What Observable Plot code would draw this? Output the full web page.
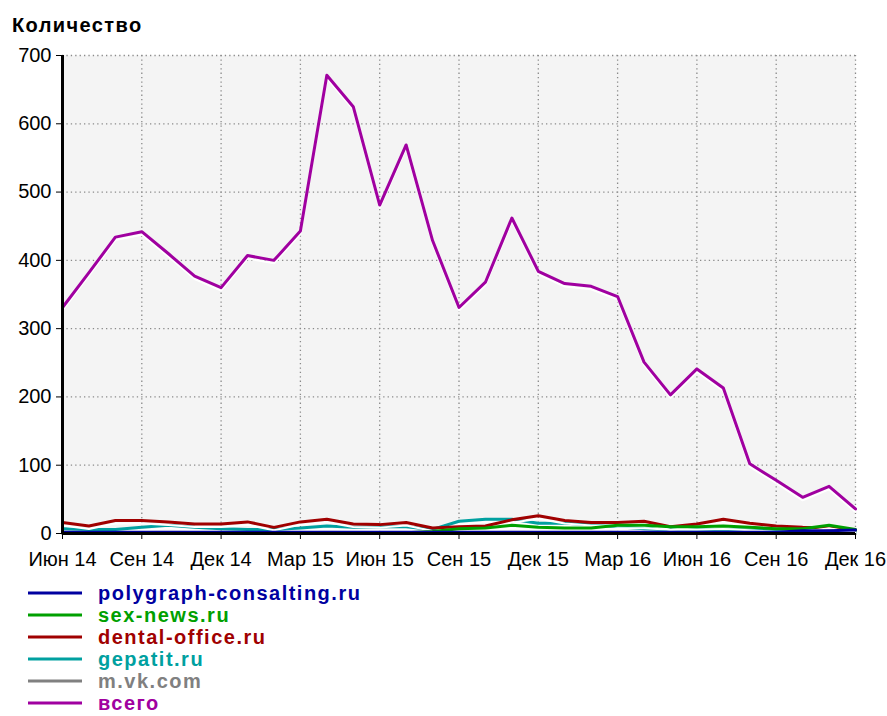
<!DOCTYPE html>
<html>
<head>
<meta charset="utf-8">
<script src="https://cdn.jsdelivr.net/npm/d3@7"></script>
<script src="https://cdn.jsdelivr.net/npm/@observablehq/plot@0.6"></script>
<style>
  body { margin: 0; background: #fff; font-family: "Liberation Sans", Arial, sans-serif; overflow: hidden; }
  #title { height: 40px; position: relative; }
  #title span { position: absolute; left: 12px; top: 15px; font-weight: bold; font-size: 20px; line-height: 20px; letter-spacing: 1.4px; color: #000; }
  #chart svg { display: block; }
  #legend { padding-top: 12px; }
  .row { height: 22px; display: flex; align-items: center; }
  .row svg { margin-left: 28px; display: block; }
  .row span { margin-left: 16px; font-weight: bold; font-size: 20px; line-height: 16px; letter-spacing: 1.5px; }
</style>
</head>
<body>
<div id="title"><span>Количество</span></div>
<div id="chart"></div>
<div id="legend"></div>
<script>
// Months (index 0 = Июн 14 ... 30 = Дек 16)
const months = ["Июн 14","Июл 14","Авг 14","Сен 14","Окт 14","Ноя 14","Дек 14","Янв 15","Фев 15","Мар 15","Апр 15","Май 15","Июн 15","Июл 15","Авг 15","Сен 15","Окт 15","Ноя 15","Дек 15","Янв 16","Фев 16","Мар 16","Апр 16","Май 16","Июн 16","Июл 16","Авг 16","Сен 16","Окт 16","Ноя 16","Дек 16"];
const xTickIdx = [0,3,6,9,12,15,18,21,24,27,30];
const yTicks = [0,100,200,300,400,500,600,700];

const seriesNames = ["polygraph-consalting.ru","sex-news.ru","dental-office.ru","gepatit.ru","m.vk.com","всего"];
const seriesColors = ["#0000a0","#00a000","#a00000","#00a0a0","#808080","#a000a0"];

const polygraphVals = [2,2,2,2,2,2,2,2,2,2,2,2,2,2,2,2,2,2,2,2,2,2,2,2,2,2,2,2,4,4,5];
const sexNewsVals   = [1,1,1,1,1,1,1,1,1,1,1,1,1,1,3,7,8,12,9,8,8,12,12,10,10,11,9,7,7,12,6];
const dentalVals    = [16,11,19,19,17,14,14,17,9,17,21,14,13,16,8,10,11,20,26,19,16,16,18,10,14,21,15,11,9,8,5];
const gepatitVals   = [7,6,6,9,12,9,7,6,6,8,11,9,10,10,6,18,21,21,15,15,13,10,7,6,5,5,5,4,3,3,2];
const mvkVals       = [0,0,0,0,0,0,0,0,0,0,0,0,0,0,0,0,0,0,0,0,0,0,0,0,0,0,0,1,1,0,0];
const totalVals     = [331,382,434,442,410,377,360,407,400,443,671,625,481,569,429,331,368,462,384,366,362,347,251,203,241,213,102,78,53,69,36];

const seriesVals = [polygraphVals, sexNewsVals, dentalVals, gepatitVals, mvkVals, totalVals];

// draw order: всего, m.vk.com, gepatit, dental, sex-news, polygraph
const drawOrder = [5,4,3,2,1,0];

const lineMarks = [];
for (const k of drawOrder) {
  const vals = seriesVals[k];
  lineMarks.push(Plot.line(vals, {x: (d, i) => i, y: d => d, stroke: "#ffffff", strokeWidth: 2, dy: 3}));
  lineMarks.push(Plot.line(vals, {x: (d, i) => i, y: d => d, stroke: seriesColors[k], strokeWidth: 3}));
}

const chart = Plot.plot({
  width: 887,
  height: 530,
  marginTop: 15,
  marginBottom: 37,
  marginLeft: 62,
  marginRight: 32,
  style: {fontFamily: "'Liberation Sans', Arial, sans-serif", color: "#000", background: "#fff"},
  x: {domain: [0, 30]},
  y: {domain: [0, 700]},
  marks: [
    Plot.frame({fill: "#f4f4f4", stroke: "none"}),
    Plot.gridY(yTicks, {stroke: "#8a8a8a", strokeOpacity: 1, strokeWidth: 1.3, strokeDasharray: "1.3,3.1"}),
    Plot.gridX(xTickIdx, {stroke: "#8a8a8a", strokeOpacity: 1, strokeWidth: 1.3, strokeDasharray: "1.3,3.1"}),
    ...lineMarks,
    Plot.ruleX([0], {stroke: "#000", strokeWidth: 3}),
    Plot.ruleY([0], {stroke: "#000", strokeWidth: 3}),
    Plot.axisY(yTicks, {tickSize: 6, tickPadding: 5, fontSize: 20, label: null, tickFormat: d => String(d)}),
    Plot.axisX(xTickIdx, {tickSize: 6, tickPadding: 12, fontSize: 20, label: null, tickFormat: i => months[i]})
  ]
});
document.getElementById("chart").appendChild(chart);

// Legend
const legend = document.getElementById("legend");
seriesNames.forEach((name, k) => {
  const row = document.createElement("div");
  row.className = "row";
  row.innerHTML = `<svg width="54" height="4"><line x1="0" x2="54" y1="2" y2="2" stroke="${seriesColors[k]}" stroke-width="3"/></svg><span style="color:${seriesColors[k]}">${name}</span>`;
  legend.appendChild(row);
});
</script>
</body>
</html>
